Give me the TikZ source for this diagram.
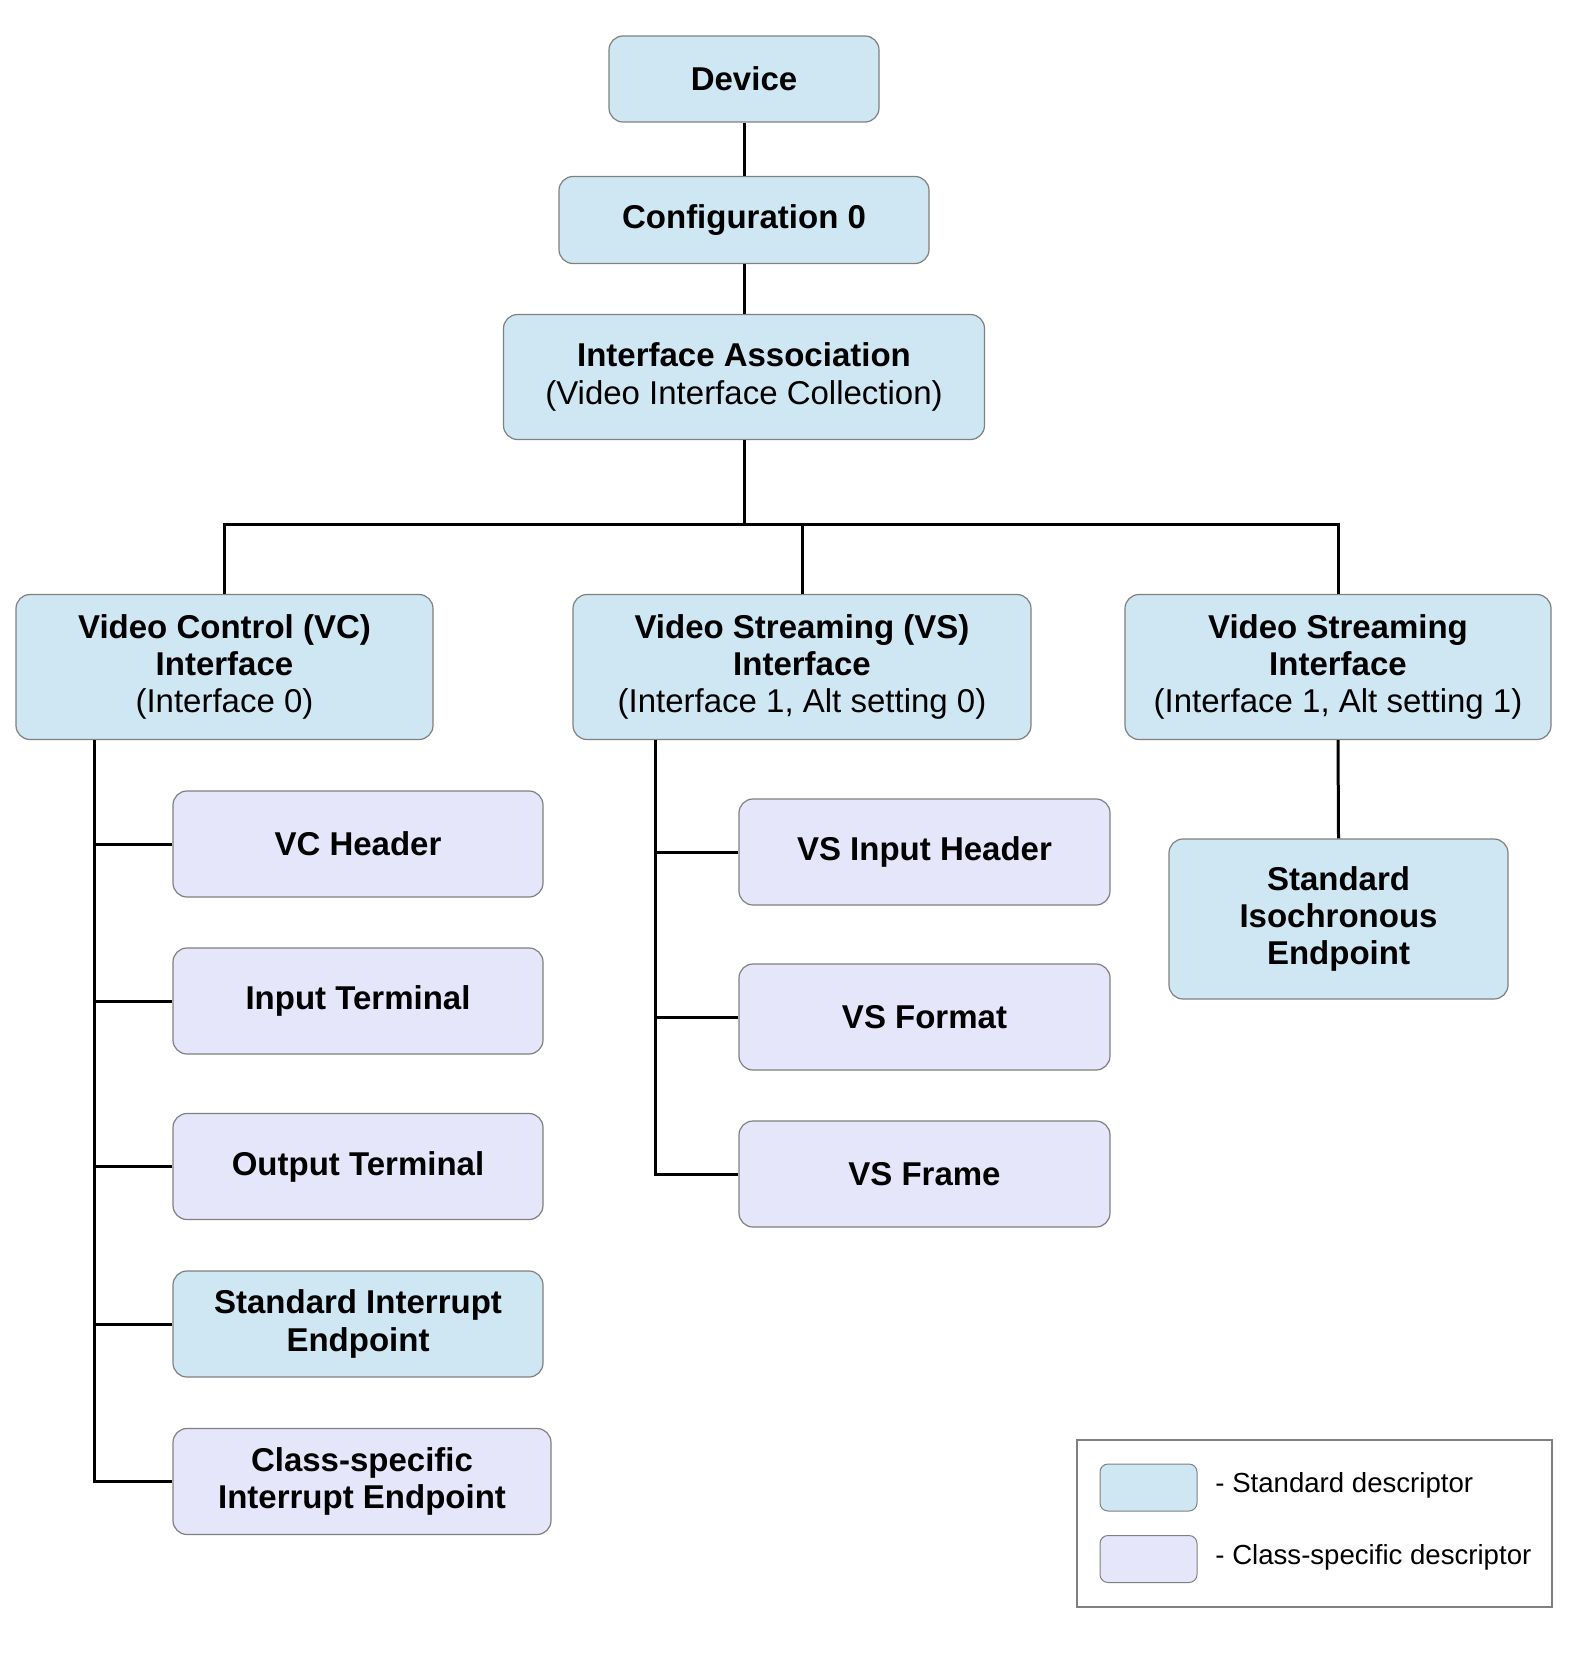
\documentclass[tikz,border=0pt]{standalone}
\usepackage{fontspec}
\setmainfont{Liberation Sans}
\definecolor{stdblue}{HTML}{CFE6F3}
\definecolor{clslav}{HTML}{E6E6FA}
\definecolor{bordgray}{HTML}{808080}
\begin{document}
\begin{tikzpicture}[x=0.5pt,y=-0.5pt,
  box/.style={draw=bordgray, line width=0.6pt, rounded corners=7pt, align=center,
    inner sep=0pt, font=\fontsize{16.5}{18.7}\selectfont\bfseries},
  stdbox/.style={box, fill=stdblue},
  clsbox/.style={box, fill=clslav},
  conn/.style={line width=1.5pt, black},
  sz/.style 2 args={minimum width=#1*0.5pt, minimum height=#2*0.5pt}]
\useasboundingbox (0,0) rectangle (1575,1653);
\fill[white] (0,0) rectangle (1575,1653);

% top chain
\node[stdbox, sz={270}{86}] (dev) at (744,79) {Device};
\node[stdbox, sz={370}{87}] (cfg) at (744,220) {Configuration 0};
\node[stdbox, sz={481}{125}] (ia) at (744,377) {Interface Association\\{\mdseries (Video Interface Collection)}};

% interfaces
\node[stdbox, sz={417}{145}] (vc) at (224.5,667) {Video Control (VC)\\Interface\\{\mdseries (Interface 0)}};
\node[stdbox, sz={458}{145}] (vs0) at (802,667) {Video Streaming (VS)\\Interface\\{\mdseries (Interface 1, Alt setting 0)}};
\node[stdbox, sz={426}{145}] (vs1) at (1338,667) {Video Streaming\\Interface\\{\mdseries (Interface 1, Alt setting 1)}};

% VC children
\node[clsbox, sz={370}{106}] (vch) at (358,844) {VC Header};
\node[clsbox, sz={370}{106}] (it) at (358,1001) {Input Terminal};
\node[clsbox, sz={370}{106}] (ot) at (358,1166.5) {Output Terminal};
\node[stdbox, sz={370}{106}] (sie) at (358,1324) {Standard Interrupt\\Endpoint};
\node[clsbox, sz={378}{106}] (cie) at (362,1481.5) {Class-specific\\Interrupt Endpoint};

% VS children
\node[clsbox, sz={371}{106}] (vsih) at (924.5,852) {VS Input Header};
\node[clsbox, sz={371}{106}] (vsf) at (924.5,1017) {VS Format};
\node[clsbox, sz={371}{106}] (vsfr) at (924.5,1174) {VS Frame};

% isochronous endpoint
\node[stdbox, sz={339}{160}] (iso) at (1338.5,919) {Standard\\Isochronous\\Endpoint};

% connectors top
\draw[conn] (dev.south) -- (cfg.north);
\draw[conn] (cfg.south) -- (ia.north);
\coordinate (bus) at (744,524);
\draw[conn] (ia.south) -- (bus);
\draw[conn] (vc.north) |- (bus) -| (vs1.north);
\draw[conn] (vs0.north) -- (vs0.north |- bus);

% VC trunk
\coordinate (vctop) at (94,740);
\draw[conn] (vctop) |- (cie.west);
\draw[conn] (vctop |- vch.west) -- (vch.west);
\draw[conn] (vctop |- it.west) -- (it.west);
\draw[conn] (vctop |- ot.west) -- (ot.west);
\draw[conn] (vctop |- sie.west) -- (sie.west);

% VS trunk
\coordinate (vstop) at (655,740);
\draw[conn] (vstop) |- (vsfr.west);
\draw[conn] (vstop |- vsih.west) -- (vsih.west);
\draw[conn] (vstop |- vsf.west) -- (vsf.west);

% iso
\draw[conn] (vs1.south) -- (iso.north);

% legend
\node[draw=bordgray, line width=0.6pt, sz={475}{167}, inner sep=0pt] (leg) at (1314.5,1523.5) {};
\node[draw=bordgray, line width=0.5pt, fill=stdblue, rounded corners=4pt, sz={97}{47}, inner sep=0pt] (sw1) at (1148.5,1487.5) {};
\node[draw=bordgray, line width=0.5pt, fill=clslav, rounded corners=4pt, sz={97}{47}, inner sep=0pt] (sw2) at (1148.5,1559) {};
\node[anchor=west, inner sep=0pt, font=\fontsize{13.8}{16}\selectfont] (l1) at (1215,1485) {- Standard descriptor};
\node[anchor=west, inner sep=0pt, font=\fontsize{13.8}{16}\selectfont] (l2) at (1215,1557) {- Class-specific descriptor};
\end{tikzpicture}
\end{document}
